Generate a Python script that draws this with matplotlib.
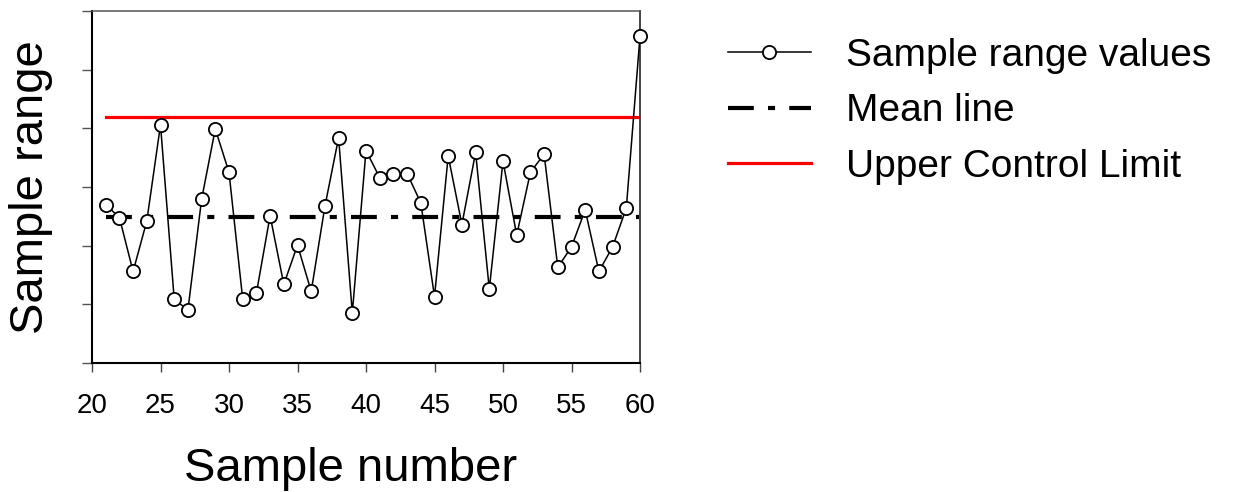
import matplotlib.pyplot as plt
import numpy as np

plt.rcParams['font.family'] = ['Liberation Sans', 'DejaVu Sans']

# Range chart, samples 21-60 (y read off in tick units, axis has no labels)
sample_no = list(range(21, 61))
sample_range = [2.70, 2.48, 1.56, 2.42, 4.06, 1.09, 0.90, 2.79, 3.99, 3.25,
                1.09, 1.19, 2.51, 1.34, 2.01, 1.22, 2.67, 3.84, 0.85, 3.62,
                3.16, 3.23, 3.23, 2.73, 1.13, 3.53, 2.36, 3.59, 1.26, 3.44,
                2.18, 3.25, 3.56, 1.63, 1.98, 2.61, 1.56, 1.98, 2.64, 5.57]
mean_value = 2.49
ucl_value = 4.20
x_ticks = [20, 25, 30, 35, 40, 45, 50, 55, 60]
y_ticks = [0, 1, 2, 3, 4, 5, 6]

fig = plt.figure(figsize=(12.57, 4.92), dpi=100)
ax = fig.add_axes([0.07319, 0.26220, 0.43596, 0.71545])

x0, x1 = sample_no[0], sample_no[-1]
ax.plot([x0, x1], [mean_value, mean_value], color='black', lw=3,
        linestyle=(0, (6.2, 3.4, 1.7, 3.4)), label='Mean line', zorder=2)
ax.plot([x0, x1], [ucl_value, ucl_value], color='#ff0000', lw=2.3,
        label='Upper Control Limit', zorder=2)
ax.plot(sample_no, sample_range, color='black', lw=1.1, marker='o', ms=9.5,
        mfc='white', mec='black', mew=1.3, label='Sample range values',
        clip_on=False, zorder=3)

ax.set_xlim(20, 60)
ax.set_ylim(0, 6)
ax.set_xticks(x_ticks)
ax.set_yticks(y_ticks)
ax.set_yticklabels([])
ax.tick_params(axis='x', direction='out', length=6.5, width=1, color='#444444',
               labelsize=20, pad=15)
ax.tick_params(axis='y', direction='out', length=7, width=1, color='#555555')

for side in ['left', 'bottom']:
    ax.spines[side].set_linewidth(1.5)
    ax.spines[side].set_color('black')
ax.spines['top'].set_linewidth(1.1)
ax.spines['top'].set_color('#555555')
ax.spines['right'].set_linewidth(1.4)
ax.spines['right'].set_color('#444444')

ax.set_xlabel('Sample number', fontsize=34)
ax.xaxis.set_label_coords(0.471, -0.240)
ax.set_ylabel('Sample range', fontsize=34)
ax.yaxis.set_label_coords(-0.071, 0.5)

h, l = ax.get_legend_handles_labels()
order = [2, 0, 1]
fig.legend([h[i] for i in order], [l[i] for i in order],
           loc='upper left', bbox_to_anchor=(728 / 1257, 1 - 38 / 492),
           frameon=False, fontsize=28, borderpad=0, borderaxespad=0,
           handlelength=2.13, handletextpad=0.91, labelspacing=0.5)

plt.savefig('out.png', dpi=100)
